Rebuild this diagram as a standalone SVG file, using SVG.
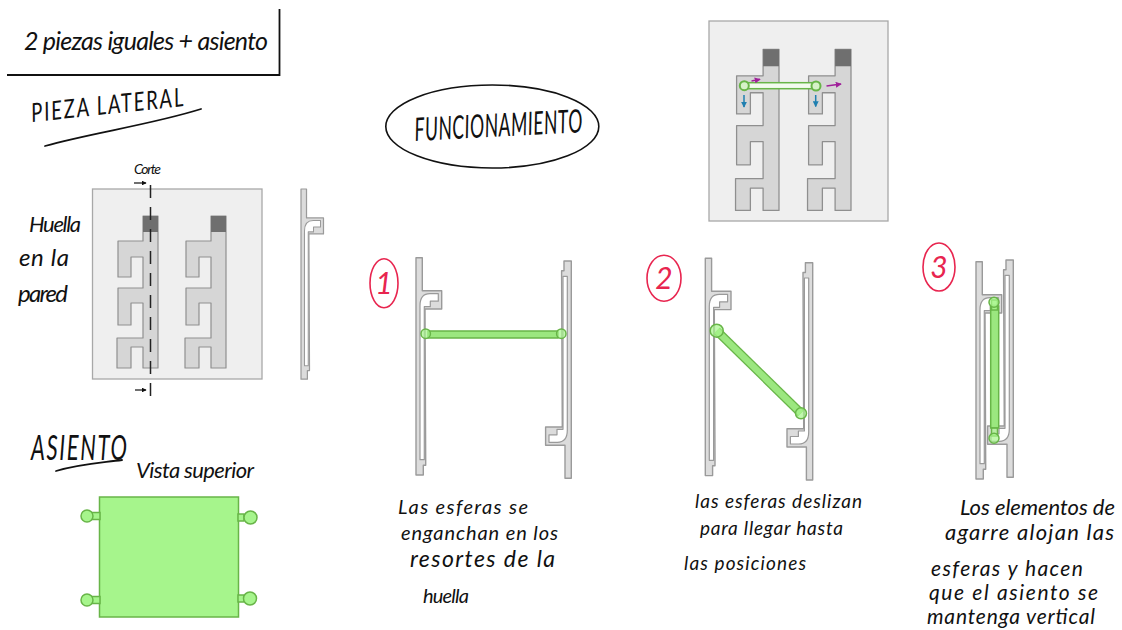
<svg xmlns="http://www.w3.org/2000/svg" width="1122" height="630" viewBox="0 0 1122 630">
<style>
.hw{font-family:"Lato","Liberation Sans",sans-serif;font-style:italic;fill:#111}
.ink{fill:none;stroke:#111;stroke-width:1.8;stroke-linecap:round}
.red{fill:none;stroke:#e8254f;stroke-width:1.6}
.redt{font-family:"Lato","Liberation Sans",sans-serif;font-style:italic;fill:#e8254f;font-size:30px;text-anchor:middle}
.wall{fill:#efefef;stroke:#a8a8a8;stroke-width:1.3}
.slot{fill:#d6d6d6;stroke:#8f8f8f;stroke-width:1.2;stroke-linejoin:round}
.dark{fill:#6f6f6f}
.prof{fill:#dcdcdc;stroke:#9a9a9a;stroke-width:1.4;stroke-linejoin:round}
.chan{fill:#fff;stroke:#9a9a9a;stroke-width:1.2;stroke-linejoin:round}
.gr{fill:#a6f58c;stroke:#68b548;stroke-width:1.5}
.grb{fill:#9be77f;stroke:#68b548;stroke-width:1.5}
.grc{fill:#a6f58c;fill-opacity:.7;stroke:#68b548;stroke-width:1.5}
</style>
<defs>
<g id="piece">
<path class="slot" d="M143 216H158V368H143V347H131V368H117V338H143V303H131V325H118V288H143V257H131V277H118V241H143Z"/>
<rect class="dark" x="143" y="216" width="15" height="16"/>
</g>
<g id="profile">
<path class="prof" d="M0 0H6.300V33H25.700V51.300H9L9.700 202.300V207.500H7.300V217.300H0Z"/>
<path class="chan" d="M4 202V48Q4 36 14 36H22.300V43.500H14.300V49H8.300V202Z"/>
</g>
<marker id="am" viewBox="0 0 8 8" refX="7" refY="4" markerWidth="4" markerHeight="4" orient="auto"><path d="M0 0L8 4L0 8Z" fill="#a0209a"/></marker>
<marker id="ab" viewBox="0 0 8 8" refX="7" refY="4" markerWidth="4" markerHeight="4" orient="auto"><path d="M0 0L8 4L0 8Z" fill="#1f7fb0"/></marker>
<marker id="ak" viewBox="0 0 8 8" refX="7" refY="4" markerWidth="4" markerHeight="4" orient="auto"><path d="M0 0L8 4L0 8Z" fill="#111"/></marker>
</defs>
<rect width="1122" height="630" fill="#fff"/>

<g id="header">
<path d="M7 75H279.500V9" fill="none" stroke="#111" stroke-width="1.8"/>
<text class="hw" x="24" y="50" font-size="25" textLength="244">2 piezas iguales + asiento</text>
</g>

<g id="pieza-lateral-title">
<text class="hw" transform="translate(32 122) rotate(-6) scale(1 1.3)" font-size="20" textLength="153">PIEZA LATERAL</text>
<path class="ink" d="M45 146C90 133 150 125 201 109"/>
</g>

<g id="huella">
<rect class="wall" x="92.500" y="189" width="169.500" height="190"/>
<use href="#piece"/>
<use href="#piece" x="68"/>
<text class="hw" x="29" y="232" font-size="22" textLength="52">Huella</text>
<text class="hw" x="19" y="266" font-size="24" textLength="50">en la</text>
<text class="hw" x="18" y="302" font-size="24" textLength="50">pared</text>
</g>

<g id="corte">
<text class="hw" x="134" y="174" font-size="14" textLength="27">Corte</text>
<path d="M150.500 185V404" fill="none" stroke="#222" stroke-width="1.500" stroke-dasharray="13 9"/>
<path d="M134 183H146" fill="none" stroke="#111" stroke-width="1.200" marker-end="url(#ak)"/>
<path d="M135 390H146" fill="none" stroke="#111" stroke-width="1.200" marker-end="url(#ak)"/>
</g>

<g id="perfil-lateral">
<use href="#profile" transform="translate(301 189) scale(.875)"/>
</g>

<g id="asiento-title">
<text class="hw" transform="translate(31 460) scale(1 1.600)" font-size="22" textLength="96">ASIENTO</text>
<path class="ink" d="M56 471C80 464 100 463 122 460"/>
<text class="hw" x="136" y="478" font-size="22" textLength="118">Vista superior</text>
</g>

<g id="asiento">
<rect class="gr" x="99.500" y="497" width="139" height="120"/>
<rect class="gr" x="92" y="512.500" width="8" height="7"/>
<rect class="gr" x="92" y="596.500" width="8" height="7"/>
<rect class="gr" x="238" y="514" width="6" height="7"/>
<rect class="gr" x="238" y="595" width="6" height="7"/>
<circle class="gr" cx="87" cy="516" r="6"/>
<circle class="gr" cx="87" cy="600" r="6"/>
<circle class="gr" cx="250.500" cy="517.500" r="6.500"/>
<circle class="gr" cx="250" cy="598.500" r="6.500"/>
</g>

<g id="funcionamiento">
<ellipse cx="492.300" cy="126.500" rx="106.500" ry="41.500" fill="none" stroke="#111" stroke-width="1.600"/>
<text class="hw" transform="translate(415 141) rotate(-3) scale(1 1.700)" font-size="19" textLength="168">FUNCIONAMIENTO</text>
</g>

<g id="vista-superior">
<rect class="wall" x="709" y="21" width="179" height="200"/>
<use href="#piece" transform="translate(779 49.300) scale(1.060) translate(-158 -216)"/>
<use href="#piece" transform="translate(851 49.300) scale(1.060) translate(-158 -216)"/>
<rect x="745" y="82.700" width="71" height="6" fill="#f2fbee" stroke="#68b548" stroke-width="1.500"/>
<circle cx="744.300" cy="85.700" r="4.500" fill="#d6f2c8" stroke="#68b548" stroke-width="2"/>
<circle cx="816" cy="86" r="4.500" fill="#d6f2c8" stroke="#68b548" stroke-width="2"/>
<path d="M751.500 81L760 79.300" stroke="#a0209a" stroke-width="1.500" fill="none" marker-end="url(#am)"/>
<path d="M826.500 86L841 84" stroke="#a0209a" stroke-width="1.500" fill="none" marker-end="url(#am)"/>
<path d="M744 95V107" stroke="#1f7fb0" stroke-width="1.500" fill="none" marker-end="url(#ab)"/>
<path d="M815.700 95V106.500" stroke="#1f7fb0" stroke-width="1.500" fill="none" marker-end="url(#ab)"/>
</g>

<g id="paso-1">
<ellipse class="red" cx="384" cy="283.300" rx="14" ry="24.500"/>
<text class="redt" x="384" y="294">1</text>
<use href="#profile" transform="translate(416 257.700)"/>
<use href="#profile" transform="translate(571.300 478.300) rotate(180)"/>
<rect class="grb" x="428" y="331" width="130" height="7"/>
<circle class="grc" cx="425.700" cy="333.700" r="4.700"/>
<circle class="grc" cx="561.300" cy="333.700" r="4.700"/>
<text class="hw" x="398" y="514" font-size="20" textLength="130">Las esferas se</text>
<text class="hw" x="401" y="540" font-size="20" textLength="157">enganchan en los</text>
<text class="hw" x="410" y="567" font-size="23" textLength="145">resortes de la</text>
<text class="hw" x="423" y="603" font-size="20" textLength="46">huella</text>
</g>

<g id="paso-2">
<ellipse class="red" cx="664" cy="278.300" rx="17" ry="23"/>
<text class="redt" x="664" y="289">2</text>
<use href="#profile" transform="translate(705.300 258.300)"/>
<use href="#profile" transform="translate(812.700 480) rotate(180)"/>
<path d="M716.700 330.700L801 413.300" stroke="#68b548" stroke-width="9" fill="none"/>
<path d="M716.700 330.700L801 413.300" stroke="#9be77f" stroke-width="6.500" fill="none"/>
<circle class="grc" cx="716.700" cy="330.700" r="6.500"/>
<circle class="grc" cx="801" cy="413.300" r="5.500"/>
<text class="hw" x="695" y="508" font-size="19" textLength="167">las esferas deslizan</text>
<text class="hw" x="700" y="535" font-size="19" textLength="143">para llegar hasta</text>
<text class="hw" x="684" y="570" font-size="19" textLength="122">las posiciones</text>
</g>

<g id="paso-3">
<ellipse class="red" cx="939" cy="267" rx="16" ry="24"/>
<text class="redt" x="939" y="278">3</text>
<use href="#profile" transform="translate(976 261.700)"/>
<use href="#profile" transform="translate(1013.300 477.300) rotate(180)"/>
<rect class="grb" x="990.700" y="306" width="8" height="122"/>
<rect class="grc" x="991.500" y="300" width="6" height="10"/>
<rect class="grc" x="991.500" y="428" width="6" height="8"/>
<circle class="grc" cx="994" cy="302.300" r="5"/>
<circle class="grc" cx="994" cy="438.300" r="5"/>
<text class="hw" x="960" y="515" font-size="22" textLength="155">Los elementos de</text>
<text class="hw" x="945" y="540" font-size="22" textLength="169">agarre alojan las</text>
<text class="hw" x="931" y="576" font-size="21" textLength="152">esferas y hacen</text>
<text class="hw" x="929" y="600" font-size="21" textLength="169">que el asiento se</text>
<text class="hw" x="927" y="624" font-size="21" textLength="168">mantenga vertical</text>
</g>
</svg>
